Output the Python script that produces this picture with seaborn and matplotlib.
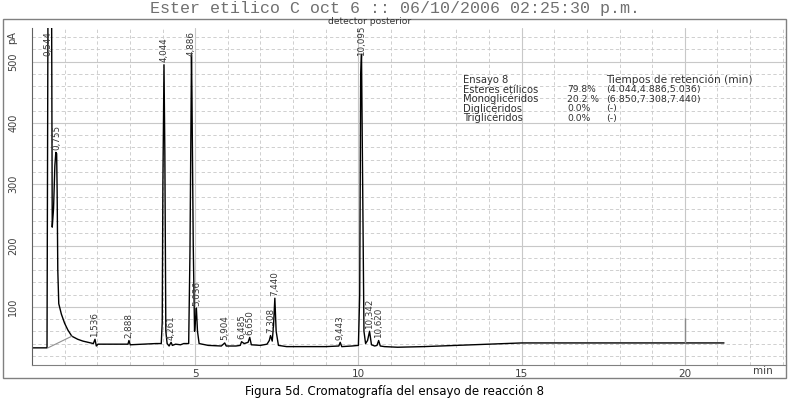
import seaborn as sns
import matplotlib.pyplot as plt
from matplotlib.patches import Rectangle
from matplotlib.ticker import MultipleLocator

# chromatogram trace (min, pA)
ret_time = [0.00, 0.46, 0.49, 0.60, 0.62, 0.66, 0.70, 0.73, 0.755, 0.77, 0.79, 0.82,
            0.90, 1.00, 1.10, 1.22, 1.40, 1.56, 1.80, 1.88, 1.93, 1.97, 2.02, 2.40,
            2.80, 2.94, 2.97, 3.01, 3.40, 3.80, 3.96, 3.99, 4.01, 4.044, 4.07, 4.10,
            4.14, 4.20, 4.261, 4.30, 4.40, 4.55, 4.65, 4.80, 4.84, 4.886, 4.90, 4.94,
            4.98, 5.01, 5.036, 5.07, 5.12, 5.40, 5.80, 5.904, 5.95, 6.25, 6.38, 6.42,
            6.50, 6.62, 6.67, 6.72, 7.00, 7.20, 7.27, 7.308, 7.36, 7.40, 7.44, 7.48,
            7.55, 7.80, 8.30, 9.00, 9.40, 9.443, 9.49, 9.80, 10.00, 10.04, 10.07, 10.095,
            10.13, 10.17, 10.22, 10.28, 10.342, 10.40, 10.50, 10.57, 10.62, 10.67, 10.80, 11.20,
            12.00, 13.00, 14.00, 15.00, 16.00, 17.00, 18.00, 19.00, 20.00, 21.20]
signal = [33, 33, 600, 600, 230, 260, 330, 352, 350, 290, 160, 105,
          88, 73, 62, 52, 47, 44, 41, 40, 47, 36, 39, 39,
          39, 39, 45, 38, 39, 40, 40, 75, 300, 495, 350, 60,
          40, 36, 42, 37, 39, 38, 40, 40, 190, 512, 450, 200,
          60, 80, 98, 60, 40, 37, 36, 41, 36, 36, 37, 43,
          40, 42, 50, 38, 37, 39, 45, 53, 44, 70, 114, 60,
          37, 35, 35, 35, 36, 42, 35, 36, 37, 120, 480, 512,
          300, 60, 40, 45, 60, 38, 36, 37, 45, 36, 35, 34,
          35, 37, 39, 41, 41, 41, 41, 41, 41, 41]

# integrator baseline under the solvent tail and the event mark near 20 min
base_time = [0.49, 1.22]
base_signal = [33, 52]
event_time = 20.0
event_signal = [41, 82]

peak_times = [0.49, 0.755, 1.93, 2.97, 4.044, 4.261, 4.886, 5.036, 5.904,
              6.42, 6.67, 7.308, 7.44, 9.443, 10.095, 10.342, 10.62]
peak_apex = [600, 352, 47, 45, 495, 42, 512, 98, 41,
             43, 50, 53, 114, 42, 512, 60, 45]
peak_labels = ['0,544', '0,755', '1,536', '2,888', '4,044', '4,261', '4,886', '5,036', '5,904',
               '6,485', '6,650', '7,308', '7,440', '9,443', '10,095', '10,342', '10,620']

info_names = ['Ensayo 8', 'Esteres etílicos', 'Monoglicéridos', 'Diglicéridos', 'Triglicéridos']
info_pct = ['', '79.8%', '20.2 %', '0.0%', '0.0%']
info_rt = ['Tiempos de retención (min)', '(4.044,4.886,5.036)', '(6.850,7.308,7.440)', '(-)', '(-)']

sns.set_style('white')
fig = plt.figure(figsize=(7.89, 4.04), dpi=100)
ax = fig.add_axes([32 / 789, 1 - 365 / 404, 754 / 789, 337 / 404])

grid_c = '#c8c8c8'
ax.xaxis.set_major_locator(MultipleLocator(5))
ax.xaxis.set_minor_locator(MultipleLocator(1))
ax.yaxis.set_major_locator(MultipleLocator(100))
ax.yaxis.set_minor_locator(MultipleLocator(20))
ax.grid(which='major', color=grid_c, lw=0.8, ls='-')
ax.grid(which='minor', color=grid_c, lw=0.6, ls=(0, (4, 3)))
ax.set_axisbelow(True)

sns.lineplot(x=ret_time, y=signal, ax=ax, color='black', linewidth=1.0,
             sort=False, estimator=None)
sns.lineplot(x=base_time, y=base_signal, ax=ax, color='#909090', linewidth=0.8,
             sort=False, estimator=None)
ax.vlines(event_time, event_signal[0], event_signal[1], color='#8a8a8a', lw=1.0)

ax.set_xlim(0, 23.1)
ax.set_ylim(5, 555)

for t, a, lab in zip(peak_times, peak_apex, peak_labels):
    ax.text(t, min(a, 506) + 4, lab, rotation=90, ha='center', va='bottom',
            fontsize=6.3, color='#383838')

# result table
txt_c = '#303030'
for i, (n, p, r) in enumerate(zip(info_names, info_pct, info_rt)):
    y = 470 - i * 15.5
    ax.text(13.2, y, n, fontsize=7.2, color=txt_c, va='center')
    ax.text(16.4, y, p, fontsize=6.6, color=txt_c, va='center')
    ax.text(17.6, y, r, fontsize=7.6 if i == 0 else 6.8, color=txt_c, va='center')

ax.set_xticks([5, 10, 15, 20])
ax.set_xticklabels(['5', '10', '15', '20'])
ax.set_yticks([100, 200, 300, 400, 500])
ax.set_yticklabels(['100', '200', '300', '400', '500'])
ax.tick_params(axis='x', which='both', direction='out', length=3, width=0.8,
               color='#606060', labelsize=7.5, labelcolor='#404040', pad=0)
ax.tick_params(axis='y', which='both', direction='inout', length=6, width=0.8,
               color='#606060', labelsize=7, labelcolor='#404040', pad=7,
               labelrotation=90)
for lab in ax.get_yticklabels():
    lab.set_va('center')

for side in ['top', 'right']:
    ax.spines[side].set_visible(False)
ax.spines['left'].set_color('#606060')
ax.spines['bottom'].set_color('#808080')
ax.set_xlabel('')
ax.set_ylabel('')

fig.text(12 / 789, 1 - 38 / 404, 'pA', rotation=90, ha='center', va='center',
         fontsize=7, color='#404040')
fig.text(763 / 789, 1 - 371 / 404, 'min', ha='center', va='center',
         fontsize=7.5, color='#404040')
fig.text(370 / 789, 1 - 21 / 404, 'detector posterior', ha='center', va='center',
         fontsize=6.6, color='#303030')

fig.patches.append(Rectangle((3 / 789, 1 - 378 / 404), 783 / 789, 359 / 404,
                             transform=fig.transFigure, fill=False,
                             edgecolor='#808080', lw=1.0))

fig.text(0.5, 1 - 8 / 404, 'Ester etilico C oct 6 :: 06/10/2006 02:25:30 p.m.',
         ha='center', va='center', fontsize=12, color='#707070',
         family='Liberation Mono')
fig.text(0.5, 1 - 392 / 404, 'Figura 5d. Cromatografía del ensayo de reacción 8',
         ha='center', va='center', fontsize=8.5, color='black')

fig.savefig('out.png', dpi=100)
